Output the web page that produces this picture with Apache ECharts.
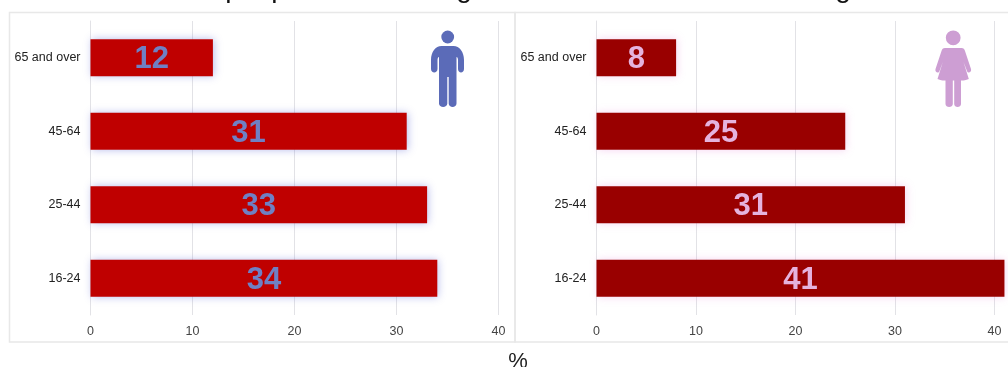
<!DOCTYPE html>
<html>
<head>
<meta charset="utf-8">
<style>html,body{margin:0;padding:0;background:#fff}#c{width:1008px;height:367px}</style>
<script src="https://cdn.jsdelivr.net/npm/echarts@6/dist/echarts.min.js"></script>
</head>
<body>
<div id="c"></div>
<script>
// Age bands, listed bottom to top
const ageBands = ['16-24', '25-44', '45-64', '65 and over'];
const menPercent = [34, 33, 31, 12];
const womenPercent = [41, 31, 25, 8];
const percentTicks = { min: 0, max: 40, interval: 10 };
const unitLabel = '%';

const FONT = '"Liberation Sans", Arial, sans-serif';
const MAN_ICON = 'M441.5 46L453.5 46C459.5 46 464 52 464 60L464 69C464 73.5 458 73.5 458 69L458 60C458 58.5 457.5 57 456.500 57L456.500 103.5C456.500 108 448.7 108 448.7 103.5L448.7 77L447.3 77L447.3 103.5C447.3 108 439 108 439 103.5L439 57C438 57 437.5 58.5 437.5 60L437.5 69C437.5 73.5 431 73.5 431 69L431 60C431 52 435.5 46 441.5 46Z';
const WOMAN_ICON = 'M945 48L961.500 48C963.5 48 964.5 49 965 51L971 69C972 72 968 74 967 71L963.5 62L968.800 79C964 81 962 80.5 961 80.5L961 104C961 108 954.2 108 954.2 104L954.2 80.5L952.800 80.5L952.800 104C952.800 108 945.500 108 945.500 104L945.500 80.5C944 80.5 942 81 937.5 79L942.800 62L939.5 71C938.5 74 934.5 72 935.5 69L941.5 51C942 49 943 48 945 48Z';
echarts.graphic.registerShape('manIcon', echarts.graphic.extendPath(MAN_ICON, {}));
echarts.graphic.registerShape('womanIcon', echarts.graphic.extendPath(WOMAN_ICON, {}));

function panelAxes(gridIndex) {
  return {
    x: {
      gridIndex, type: 'value', ...percentTicks,
      axisLine: { show: false }, axisTick: { show: false },
      axisLabel: { color: '#444', fontFamily: FONT, fontSize: 12.5, margin: 10 },
      splitLine: { lineStyle: { color: '#e2e2e6', width: 1 } }
    },
    y: {
      gridIndex, type: 'category', data: ageBands,
      axisLine: { show: true, lineStyle: { color: '#e2e2e6' } }, axisTick: { show: false },
      axisLabel: { color: '#222', fontFamily: FONT, fontSize: 12.5, margin: 10, padding: [2, 0, 0, 0] }
    }
  };
}

function barSeries(index, name, values, barColor, glow, labelColor) {
  return {
    type: 'bar', name, xAxisIndex: index, yAxisIndex: index, data: values,
    barWidth: 37, clip: false,
    itemStyle: { color: barColor, shadowColor: glow, shadowBlur: 8, shadowOffsetX: 1, shadowOffsetY: 0 },
    label: {
      show: true, position: 'inside', offset: [0, 2], color: labelColor,
      fontFamily: FONT, fontWeight: 'bold', fontSize: 31
    },
    emphasis: { disabled: true }, silent: true, animation: false
  };
}

const left = panelAxes(0), right = panelAxes(1);
const panelLine = { stroke: '#e8e8e8', lineWidth: 1.5, fill: null };

// Tails of the heading's letters along the top edge
const headingTails = [['p', 233], ['p', 279], ['g', 464], ['g', 843]];

const chart = echarts.init(document.getElementById('c'), null, { renderer: 'canvas' });
chart.setOption({
  animation: false,
  backgroundColor: '#fff',
  grid: [
    { left: 90.5, top: 21, width: 408, height: 294 },
    { left: 596.5, top: 21, width: 398, height: 294 }
  ],
  xAxis: [left.x, right.x],
  yAxis: [left.y, right.y],
  series: [
    barSeries(0, 'Men', menPercent, '#bf0000', 'rgba(80,90,210,0.4)', '#6f80c4'),
    barSeries(1, 'Women', womenPercent, '#990000', 'rgba(225,130,215,0.35)', '#e5b3de')
  ],
  graphic: [
    { type: 'rect', z: -1, shape: { x: 9.5, y: 12.5, width: 505.5, height: 329.5 }, style: panelLine },
    { type: 'rect', z: -1, shape: { x: 515, y: 12.5, width: 500, height: 329.5 }, style: panelLine },
    { type: 'circle', shape: { cx: 447.7, cy: 37, r: 6.4 }, style: { fill: '#5b6bb8' } },
    { type: 'manIcon', style: { fill: '#5b6bb8' } },
    { type: 'circle', shape: { cx: 953.2, cy: 37.8, r: 7.4 }, style: { fill: '#cd9ed3' } },
    { type: 'womanIcon', style: { fill: '#cd9ed3' } },
    { type: 'text', style: { text: unitLabel, x: 518, y: 351, align: 'center', verticalAlign: 'top', fontFamily: FONT, fontSize: 22, fill: '#222' } },
    ...headingTails.map(([letter, x]) => ({
      type: 'text',
      style: { text: letter, x, y: 3, align: 'center', verticalAlign: 'bottom', fontFamily: FONT, fontSize: 28, fill: '#111' }
    }))
  ]
});
</script>
</body>
</html>
